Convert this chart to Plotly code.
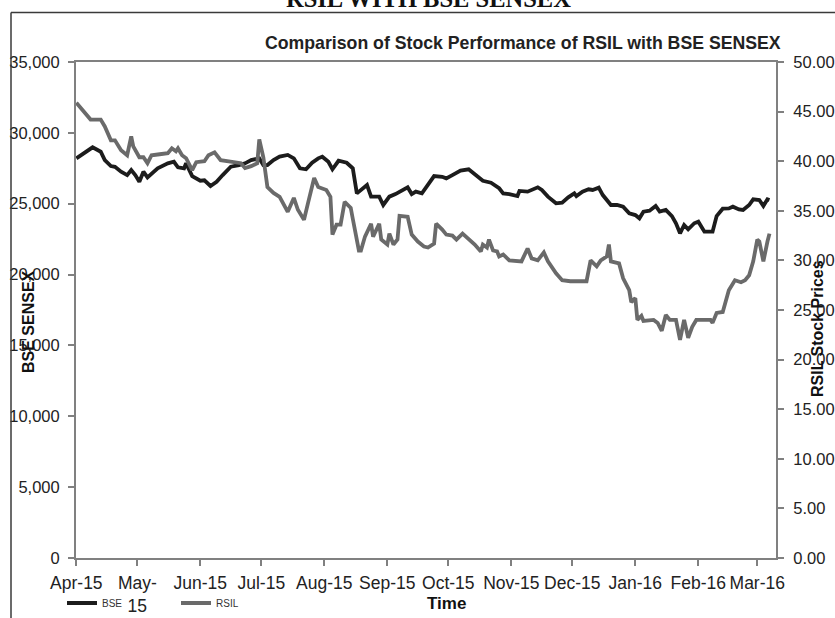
import pandas as pd
import plotly.graph_objects as go

START = pd.Timestamp("2015-04-01")

# BSE SENSEX: days since 1-Apr-2015 and closing value
bse_day = [0, 4, 8, 12, 14, 17, 19, 22, 25, 27, 29, 31, 33, 35, 37, 40, 45, 48, 50, 53,
           54, 57, 61, 63, 66, 69, 72, 76, 80, 83, 86, 90, 92, 94, 97, 100, 104, 107, 110, 113,
           116, 119, 121, 124, 126, 129, 133, 136, 138, 140, 143, 145, 149, 151, 154, 157, 159, 163, 165, 167,
           170, 173, 176, 180, 182, 185, 189, 193, 196, 200, 204, 208, 210, 213, 217, 218, 222, 227, 229, 232,
           236, 239, 242, 245, 246, 249, 252, 254, 257, 259, 263, 266, 269, 272, 275, 277, 279, 282, 285, 287,
           290, 293, 295, 297, 299, 301, 304, 306, 309, 313, 315, 318, 321, 323, 326, 328, 331, 333, 336, 338,
           340, 341]
bse_value = [28200, 28560, 28980, 28670, 28080, 27660, 27600, 27260, 27020, 27380, 27020, 26550, 27260, 26860, 27140, 27500, 27850, 27960, 27570, 27500,
             27850, 26950, 26620, 26650, 26250, 26550, 27020, 27610, 27730, 27850, 28080, 28200, 27730, 27730, 28080, 28320, 28440, 28200, 27500, 27430,
             27890, 28200, 28320, 27960, 27430, 28030, 27890, 27500, 25730, 25970, 26320, 25500, 25500, 24910, 25500, 25680, 25850, 26160, 25680, 25850,
             25730, 26320, 26950, 26900, 26790, 27020, 27330, 27430, 27100, 26620, 26480, 26090, 25730, 25680, 25540, 25900, 25850, 26160, 25970, 25500,
             25030, 25070, 25450, 25730, 25540, 25850, 26020, 25970, 26130, 25610, 24910, 24910, 24790, 24320, 24200, 23970, 24440, 24510, 24840, 24440,
             24560, 24130, 23620, 22910, 23500, 23190, 23620, 23730, 23030, 23030, 24130, 24650, 24670, 24790, 24600, 24560, 24910, 25310, 25260, 24840,
             25310, 25260]

# RSIL stock price: days since 1-Apr-2015 and price
rsil_day = [0, 3, 5, 7, 12, 14, 17, 19, 22, 25, 27, 28, 31, 33, 35, 37, 41, 45, 47, 49,
            50, 52, 54, 57, 59, 63, 65, 68, 71, 74, 77, 81, 83, 86, 89, 90, 92, 94, 97, 100,
            104, 107, 109, 112, 114, 117, 119, 123, 125, 126, 128, 130, 132, 135, 136, 139, 140, 142, 145, 146,
            149, 150, 153, 154, 156, 158, 159, 163, 165, 168, 171, 173, 176, 177, 180, 182, 185, 187, 190, 193,
            196, 199, 200, 202, 203, 205, 207, 208, 210, 213, 217, 219, 222, 224, 227, 230, 232, 236, 239, 243,
            248, 251, 253, 256, 258, 261, 262, 263, 267, 269, 272, 273, 275, 276, 278, 279, 284, 286, 288, 290,
            292, 295, 297, 299, 301, 303, 305, 308, 312, 313, 315, 318, 321, 324, 327, 329, 331, 333, 335, 336,
            338, 340, 341]
rsil_value = [45.9, 45.2, 44.7, 44.2, 44.2, 43.5, 42.1, 42.1, 41.1, 40.6, 42.5, 41.5, 40.4, 40.4, 39.8, 40.6, 40.7, 40.8, 41.3, 41.0,
              41.3, 40.6, 40.3, 39.1, 39.9, 40.0, 40.6, 40.9, 40.1, 40.0, 39.9, 39.8, 39.3, 39.5, 39.8, 42.2, 40.4, 37.4, 36.8, 36.4,
              34.9, 36.3, 35.1, 34.1, 35.8, 38.3, 37.4, 37.1, 36.4, 32.6, 33.6, 33.6, 35.9, 35.3, 34.2, 31.0, 31.0, 32.4, 33.7, 32.4,
              33.7, 32.1, 31.6, 32.7, 31.6, 32.1, 34.5, 34.4, 32.6, 31.9, 31.4, 31.3, 31.7, 33.7, 33.1, 32.6, 32.5, 32.1, 32.7, 32.2,
              31.6, 30.9, 31.6, 31.3, 32.1, 31.0, 30.9, 30.4, 30.6, 30.0, 29.9, 29.9, 31.2, 30.2, 30.0, 30.8, 29.9, 28.7, 28.0, 27.9,
              27.9, 27.9, 30.0, 29.4, 30.0, 30.4, 31.6, 29.9, 29.7, 28.2, 27.0, 25.8, 26.2, 24.0, 24.4, 23.9, 24.0, 23.7, 22.9, 24.5,
              24.0, 24.0, 22.0, 24.0, 22.2, 23.3, 24.0, 24.0, 24.0, 23.7, 24.7, 24.8, 27.0, 28.0, 27.8, 28.0, 28.5, 29.9, 32.1, 31.9,
              29.9, 31.9, 32.7]

month_ticks = ["2015-04-01", "2015-05-01", "2015-06-01", "2015-07-01", "2015-08-01", "2015-09-01",
               "2015-10-01", "2015-11-01", "2015-12-01", "2016-01-01", "2016-02-01", "2016-03-01"]
month_labels = ["Apr-15", "May-<br>15", "Jun-15", "Jul-15", "Aug-15", "Sep-15",
                "Oct-15", "Nov-15", "Dec-15", "Jan-16", "Feb-16", "Mar-16"]
bse_ticks = [0, 5000, 10000, 15000, 20000, 25000, 30000, 35000]
rsil_ticks = [0, 5, 10, 15, 20, 25, 30, 35, 40, 45, 50]

bse_dates = START + pd.to_timedelta(bse_day, unit="D")
rsil_dates = START + pd.to_timedelta(rsil_day, unit="D")

FONT = "Liberation Sans, Arial, sans-serif"
AXIS_COL = "#808080"
X_RANGE = ["2015-03-31 20:00", "2016-03-10 05:00"]

fig = go.Figure()
fig.add_trace(go.Scatter(x=bse_dates, y=bse_value, name="BSE", mode="lines",
                         line=dict(color="#1c1c1c", width=3.8), yaxis="y"))
fig.add_trace(go.Scatter(x=rsil_dates, y=rsil_value, name="RSIL", mode="lines",
                         line=dict(color="#6a6a6a", width=3.8), yaxis="y2"))

W, H = 835, 618
L, R, T, B = 76, 59, 62, 60
PW, PH = W - L - R, H - T - B


def px(xp):
    return (xp - L) / PW


def py(yp):
    return (H - B - yp) / PH


tick_common = dict(tickcolor=AXIS_COL, tickwidth=1.5, ticklen=6)

fig.update_layout(
    width=W, height=H,
    margin=dict(l=L, r=R, t=T, b=B, autoexpand=False),
    plot_bgcolor="white", paper_bgcolor="white",
    font=dict(family=FONT, color="#1a1a1a"),
    showlegend=True,
    legend=dict(orientation="h", x=px(62), xanchor="left", y=py(603), yanchor="middle",
                font=dict(size=10, family=FONT, color="#333333"),
                entrywidth=69, entrywidthmode="pixels", bgcolor="rgba(0,0,0,0)"),
    xaxis=dict(type="date", range=X_RANGE, tickvals=month_ticks, ticktext=month_labels,
               tickangle=0,
               ticks="outside", showline=True, linecolor=AXIS_COL, linewidth=2, mirror=True,
               showgrid=False, zeroline=False, tickfont=dict(size=17.5, color="#222222"),
               ticklabelstandoff=2, **tick_common),
    xaxis2=dict(type="date", range=X_RANGE, tickvals=month_ticks, overlaying="x", anchor="y",
                ticks="inside", showticklabels=False, showline=False, showgrid=False,
                zeroline=False, **tick_common),
    yaxis=dict(range=[0, 35000], tickvals=bse_ticks, tickformat=",", ticks="outside",
               showline=True, linecolor=AXIS_COL, linewidth=2, showgrid=False, zeroline=False,
               tickfont=dict(size=16.5, color="#222222"), ticklabelstandoff=5, **tick_common),
    yaxis2=dict(range=[0, 50], tickvals=rsil_ticks, tickformat=".2f", overlaying="y", side="right",
                ticks="outside", showline=True, linecolor=AXIS_COL, linewidth=2, showgrid=False,
                zeroline=False, tickfont=dict(size=16.5, color="#222222"), ticklabelstandoff=6,
                **tick_common),
    yaxis3=dict(range=[0, 35000], tickvals=bse_ticks, overlaying="y", side="left", anchor="x",
                ticks="inside", showticklabels=False, showline=False, showgrid=False,
                zeroline=False, **tick_common),
    yaxis4=dict(range=[0, 50], tickvals=rsil_ticks, overlaying="y", side="right", anchor="x",
                ticks="inside", showticklabels=False, showline=False, showgrid=False,
                zeroline=False, **tick_common),
)

annotations = [
    dict(text="<b>RSIL WITH BSE SENSEX</b>", x=px(428), y=py(13.6), xanchor="center", yanchor="bottom",
         font=dict(family="Liberation Serif, Times New Roman, serif", size=24.5, color="#111111")),
    dict(text="<b>Comparison of Stock Performance of RSIL with BSE SENSEX</b>", x=px(523), y=py(42.7),
         xanchor="center", yanchor="middle", font=dict(size=17.7, color="#222222")),
    dict(text="<b>BSE SENSEX</b>", x=px(28), y=py(322), textangle=-90, xanchor="center",
         yanchor="middle", font=dict(size=16, color="#111111")),
    dict(text="<b>RSIL Stock Prices</b>", x=px(817), y=py(329), textangle=-90, xanchor="center",
         yanchor="middle", font=dict(size=16, color="#111111")),
    dict(text="<b>Time</b>", x=px(446), y=py(603), xanchor="center", yanchor="middle",
         font=dict(size=17, color="#111111")),
]
for a in annotations:
    a.update(xref="paper", yref="paper", showarrow=False)
fig.update_layout(annotations=annotations)

frame_col = "#3a3a3a"
fig.add_shape(type="line", xref="paper", yref="paper", x0=px(11), x1=px(840), y0=py(12.5), y1=py(12.5),
              line=dict(color=frame_col, width=1.5))
fig.add_shape(type="line", xref="paper", yref="paper", x0=px(11), x1=px(11), y0=py(12.5), y1=py(625),
              line=dict(color=frame_col, width=1.5))

fig.write_html("out.html", config={"displayModeBar": False},
               post_script="document.body.style.margin='0px';")
